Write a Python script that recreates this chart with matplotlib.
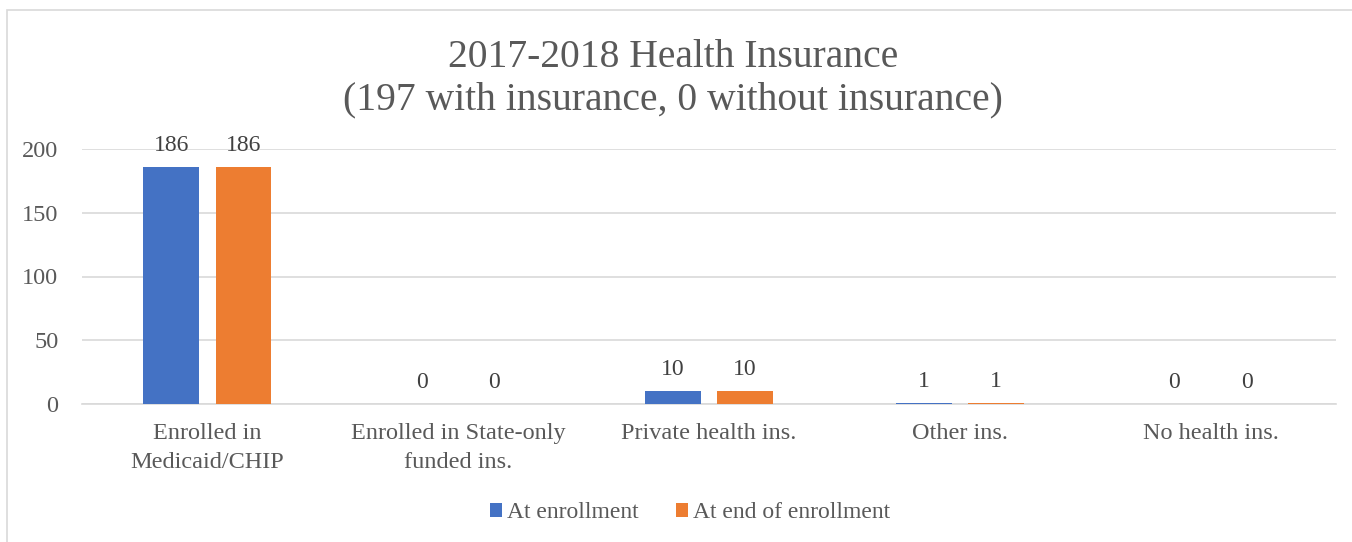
import matplotlib
matplotlib.use("Agg")
import matplotlib.pyplot as plt
import numpy as np
from matplotlib.patches import Rectangle

categories = ["Enrolled in\nMedicaid/CHIP", "Enrolled in State-only\nfunded ins.",
              "Private health ins.", "Other ins.", "No health ins."]
at_enrollment = [186, 0, 10, 1, 0]
at_end = [186, 0, 10, 1, 0]
series_names = ["At enrollment", "At end of enrollment"]
colors = ["#4472C4", "#ED7D31"]
yticks = [0, 50, 100, 150, 200]

plt.rcParams['font.family'] = ['Liberation Serif', 'DejaVu Serif']
txt = "#595959"

fig = plt.figure(figsize=(13.52, 5.42), dpi=100)
fig.patches.append(Rectangle((7/1352, -0.1), 1.2, (542-10)/542 + 0.1, transform=fig.transFigure,
                             fill=False, edgecolor="#d9d9d9", linewidth=1.2))
ax = fig.add_axes([82/1352, 1-404/542, (1336-82)/1352, (404-149)/542])

x = np.arange(len(categories))
w = 0.223
off = 0.144
b1 = ax.bar(x - off, at_enrollment, w, color=colors[0], label=series_names[0], zorder=3)
b2 = ax.bar(x + off, at_end, w, color=colors[1], label=series_names[1], zorder=3)
for bars in (b1, b2):
    for r in bars:
        ax.annotate(f"{int(r.get_height())}", (r.get_x() + r.get_width()/2, r.get_height()),
                    xytext=(0, 8), textcoords="offset points", ha="center", va="bottom",
                    fontsize=17, color="#404040")

ax.set_xlim(-0.5, len(categories) - 0.5)
ax.set_ylim(0, 200)
ax.set_yticks(yticks)
ax.yaxis.grid(True, color="#d9d9d9", linewidth=1.2, zorder=0)
ax.set_axisbelow(True)
for s in ax.spines.values():
    s.set_visible(False)
ax.spines['bottom'].set_visible(True)
ax.spines['bottom'].set_color("#d9d9d9")
ax.spines['bottom'].set_linewidth(1.2)
ax.tick_params(axis='both', length=0, labelsize=17.5, labelcolor=txt)
ax.tick_params(axis='y', pad=17)
ax.tick_params(axis='x', pad=14)
ax.set_xticks(x)
ax.set_xticklabels(categories, linespacing=1.45)

fig.text(673/1352, 1-79/542, "2017-2018 Health Insurance\n(197 with insurance, 0 without insurance)",
         ha="center", va="center", fontsize=28.5, color=txt, linespacing=1.18)

fig.legend(handles=[b1, b2], labels=series_names, loc="center", bbox_to_anchor=(690/1352, 1-513/542),
           ncol=2, frameon=False, fontsize=17, labelcolor=txt, handlelength=0.5, handleheight=0.5,
           handletextpad=0.2, columnspacing=1.6)

fig.savefig("out.png", dpi=100)
